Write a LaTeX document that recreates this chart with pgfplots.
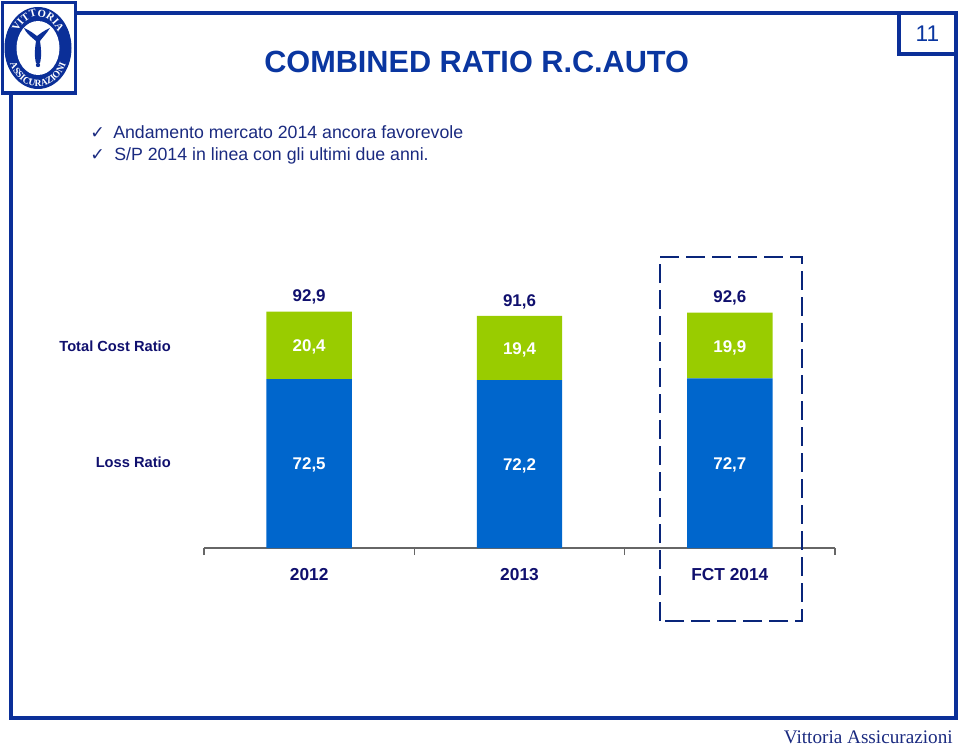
\documentclass[border=0pt]{standalone}
\usepackage{fontspec}
\setmainfont{Liberation Sans}
\newfontfamily\seriffont{Liberation Serif}
\newfontfamily\symfont{DejaVu Sans}
\usepackage{pgfplots}
\usepackage{pgfplotstable}
\pgfplotsset{compat=1.18}
\usetikzlibrary{decorations.text}
\definecolor{frameblue}{HTML}{0B2F98}
\definecolor{titleblue}{HTML}{0A36A0}
\definecolor{textnavy}{HTML}{1A2A80}
\definecolor{labelnavy}{HTML}{10106E}
\definecolor{barblue}{HTML}{0066CC}
\definecolor{bargreen}{HTML}{99CC00}
\pgfplotstableread{
x   loss  cost  total pad
0.5 72.5  20.4  92.9  0.01
1.5 72.2  19.4  91.6  0.01
2.5 72.7  19.9  92.6  0.01
}\chartdata
\newcommand{\fs}[1]{\fontsize{#1}{#1}\selectfont}
\begin{document}
\begin{tikzpicture}
\path[use as bounding box] (0,0) rectangle (720pt,-561.75pt);
\begin{scope}[x=.75pt,y=-.75pt]
% frame
\draw[frameblue,line width=2.4pt] (11,13) rectangle (956,718);
\fill[white] (0,0) rectangle (77,95);
\draw[frameblue,line width=2.6pt] (2.5,2.5) rectangle (75.5,93);
\draw[frameblue,line width=2.4pt,fill=white] (899,13) rectangle (956,54);
\node[text=titleblue,font=\fs{17}] at (927.5,33.5) {11};
% logo
\fill[frameblue] (38,48) ellipse [x radius=33.5,y radius=41];
\fill[white] (38,48) ellipse [x radius=21.5,y radius=27];
\path[decorate,decoration={text along path,text align=center,text color=white,
  text={|\seriffont\bfseries\fs{8}|VITTORIA}}]
  (14.5,48) .. controls (14.5,31) and (25,16.5) .. (38,16.5) .. controls (51,16.5) and (61.5,31) .. (61.5,48);
\path[decorate,decoration={text along path,text align=center,text color=white,
  text={|\seriffont\bfseries\fs{7.2}|ASSICURAZIONI}}]
  (7.5,50) .. controls (8,70) and (22,87) .. (38,87) .. controls (54,87) and (68,70) .. (68.5,50);
\fill[frameblue] (36,41) .. controls (30,36) and (26,33) .. (24,28) .. controls (29,30) and (33,33) .. (37,36)
  .. controls (41,33) and (45,30) .. (50,28) .. controls (47,33) and (43,37) .. (40,41)
  .. controls (41,48) and (42,55) .. (40,63) -- (36,63) .. controls (34,55) and (35,48) .. (36,41) -- cycle;
\fill[frameblue] (38,65) circle (2.2);
% title and bullets
\node[anchor=base west,text=titleblue,font=\bfseries\fs{23},inner sep=0pt] at (264,73) {COMBINED RATIO R.C.AUTO};
\node[anchor=base west,text=textnavy,font=\symfont\fs{13},inner sep=0pt] at (90,138) {✓};
\node[anchor=base west,text=textnavy,font=\symfont\fs{13},inner sep=0pt] at (90,160) {✓};
\node[anchor=base west,text=textnavy,font=\fs{13.3},inner sep=0pt] at (113,138) {Andamento mercato 2014 ancora favorevole};
\node[anchor=base west,text=textnavy,font=\fs{13.3},inner sep=0pt] at (114,160) {S/P 2014 in linea con gli ultimi due anni.};
% row labels
\node[anchor=base east,text=labelnavy,font=\bfseries\fs{11},inner sep=0pt] at (171,351) {Total Cost Ratio};
\node[anchor=base east,text=labelnavy,font=\bfseries\fs{11},inner sep=0pt] at (171,467) {Loss Ratio};
% footer
\node[anchor=base east,text=textnavy,font=\seriffont\fs{14.4},inner sep=0pt] at (953,743) {Vittoria Assicurazioni};
\end{scope}
\begin{axis}[
  at={(153pt,-411pt)},anchor=origin,
  scale only axis,width=473.25pt,height=194.8pt,
  xmin=0,xmax=3,ymin=21.3,ymax=100,
  ybar stacked,bar width=64.1pt,
  axis y line=none,axis x line=bottom,
  axis line style={-,draw=gray!80!black,line width=.8pt},
  xtick={0,1,2,3},xticklabels={2012,2013,FCT 2014},
  x tick label as interval,
  tick align=outside,
  major tick length=5.25pt,
  x tick style={draw=gray!80!black,line width=.8pt},
  xticklabel style={text=labelnavy,font=\bfseries\fs{13},yshift=-6.5pt},
  /pgf/number format/assume math mode=true,
  /pgf/number format/.cd,use comma,fixed,fixed zerofill,precision=1,
  /pgfplots/.cd,
  nodes near coords,
  point meta=explicit,
]
\addplot[fill=barblue,draw=none,
  nodes near coords style={anchor=center,text=white,font=\bfseries\fs{12.7},yshift=25pt}]
  table[x=x,y=loss,meta=loss]{\chartdata};
\addplot[fill=bargreen,draw=none,
  nodes near coords style={anchor=center,text=white,font=\bfseries\fs{12.7},yshift=-1.5pt}]
  table[x=x,y=cost,meta=cost]{\chartdata};
\addplot[fill=none,draw=none,
  nodes near coords style={anchor=center,text=labelnavy,font=\bfseries\fs{12.7},yshift=10.8pt}]
  table[x=x,y=pad,meta=total]{\chartdata};
\end{axis}
\begin{scope}[x=.75pt,y=-.75pt]
\draw[frameblue!80!black,line width=1.9pt,dash pattern=on 14pt off 5.5pt] (660,621) -- (660,257) -- (802,257) -- (802,621) -- cycle;
\end{scope}
\end{tikzpicture}
\end{document}
